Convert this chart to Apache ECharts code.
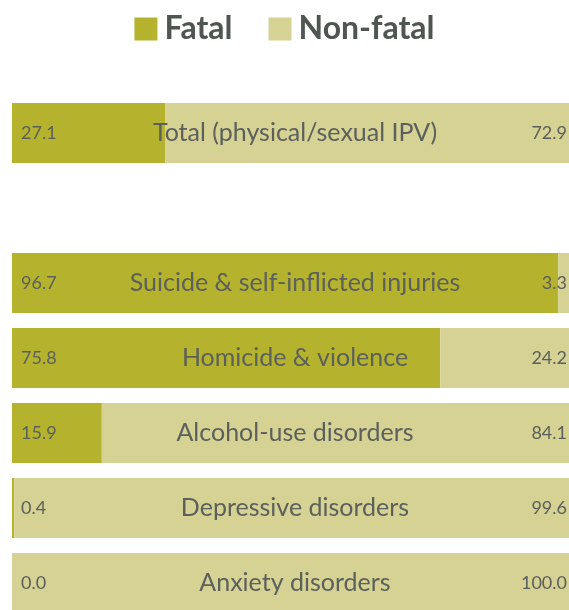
<!DOCTYPE html>
<html>
<head>
<meta charset="utf-8">
<script src="https://cdn.jsdelivr.net/npm/echarts@6/dist/echarts.min.js"></script>
<style>
  html, body { margin: 0; padding: 0; background: #fff; }
  #chart { width: 569px; height: 610px; }
</style>
</head>
<body>
<div id="chart"></div>
<script>
// categories, top to bottom ('' = spacer row)
var categories = [
  'Total (physical/sexual IPV)',
  '',
  'Suicide & self-inflicted injuries',
  'Homicide & violence',
  'Alcohol-use disorders',
  'Depressive disorders',
  'Anxiety disorders'
]
var fatalValues = [27.1, '-', 96.7, 75.8, 15.9, 0.4, 0.0]
var nonFatalValues = [72.9, '-', 3.3, 24.2, 84.1, 99.6, 100.0]

var textColor = '#5b605c'
var fontName = 'Lato'

var chart = echarts.init(document.getElementById('chart'))

var option = {
  animation: false,
  legend: {
    top: 8,
    left: 'center',
    icon: 'rect',
    itemWidth: 23,
    itemHeight: 23,
    itemGap: 36,
    textStyle: { color: '#4f5651', fontSize: 32, fontWeight: 'bold', fontFamily: fontName, padding: [0, 0, 0, 2] },
    data: ['Fatal', 'Non-fatal']
  },
  // bars run off the bottom/right edge, so don't let the grid get squeezed in
  grid: { left: 12, width: 565, top: 95.5, height: 525, containLabel: false, outerBoundsMode: 'none' },
  xAxis: {
    type: 'value',
    min: 0,
    max: 100,
    show: false
  },
  yAxis: {
    type: 'category',
    inverse: true,
    data: categories,
    z: 10,
    axisLine: { show: false },
    axisTick: { show: false },
    splitLine: { show: false },
    axisLabel: {
      inside: true,
      margin: 283,
      align: 'center',
      color: textColor,
      fontSize: 25,
      fontFamily: fontName
    }
  },
  series: [
    {
      name: 'Fatal',
      type: 'bar',
      stack: 'total',
      barCategoryGap: '20%',
      itemStyle: { color: '#b5b32e' },
      label: {
        show: true,
        position: 'insideLeft',
        distance: 9,
        color: textColor,
        fontSize: 18,
        fontFamily: fontName,
        formatter: function (p) { return Number(p.value).toFixed(1) }
      },
      data: fatalValues
    },
    {
      name: 'Non-fatal',
      type: 'bar',
      stack: 'total',
      barCategoryGap: '20%',
      itemStyle: { color: '#d5d293' },
      label: {
        show: true,
        position: 'insideRight',
        distance: 10,
        color: textColor,
        fontSize: 18,
        fontFamily: fontName,
        formatter: function (p) { return Number(p.value).toFixed(1) }
      },
      data: nonFatalValues
    }
  ]
}

chart.setOption(option)
</script>
</body>
</html>
